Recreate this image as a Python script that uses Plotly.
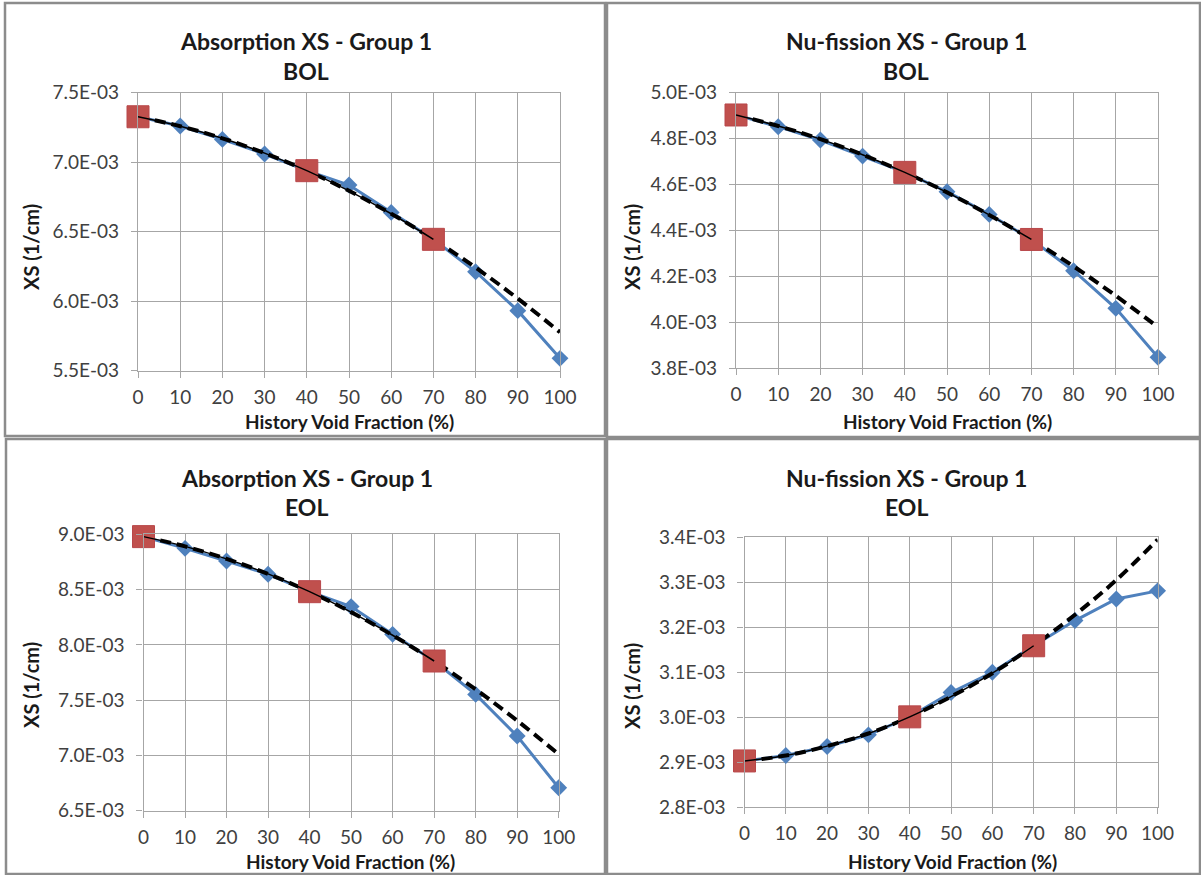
import plotly.graph_objects as go

# ---------------- data (values in 1/cm, read as x 1E-03) ----------------
void = [0, 10, 20, 30, 40, 50, 60, 70, 80, 90, 100]
fit_void = [0, 40, 70]
x_ticks = [0, 10, 20, 30, 40, 50, 60, 70, 80, 90, 100]

abs_bol_xs = [7.327, 7.260, 7.164, 7.059, 6.939, 6.836, 6.639, 6.445, 6.212, 5.932, 5.589]
abs_bol_fit = [7.327, 6.939, 6.445]
abs_bol_trend = [7.327, 7.259, 7.172, 7.065, 6.939, 6.794, 6.629, 6.445, 6.242, 6.019, 5.777]
abs_bol_yticks = [5.5, 6.0, 6.5, 7.0, 7.5]

nuf_bol_xs = [4.903, 4.852, 4.794, 4.724, 4.653, 4.569, 4.470, 4.361, 4.225, 4.061, 3.848]
nuf_bol_fit = [4.903, 4.653, 4.361]
nuf_bol_trend = [4.903, 4.855, 4.798, 4.730, 4.653, 4.566, 4.468, 4.361, 4.244, 4.116, 3.979]
nuf_bol_yticks = [3.8, 4.0, 4.2, 4.4, 4.6, 4.8, 5.0]

abs_eol_xs = [8.979, 8.873, 8.759, 8.638, 8.481, 8.346, 8.095, 7.854, 7.552, 7.175, 6.708]
abs_eol_fit = [8.979, 8.481, 7.854]
abs_eol_trend = [8.979, 8.891, 8.778, 8.642, 8.481, 8.296, 8.087, 7.854, 7.597, 7.315, 7.010]
abs_eol_yticks = [6.5, 7.0, 7.5, 8.0, 8.5, 9.0]

nuf_eol_xs = [2.903, 2.915, 2.935, 2.961, 3.001, 3.055, 3.100, 3.159, 3.215, 3.263, 3.281]
nuf_eol_fit = [2.903, 3.001, 3.159]
nuf_eol_trend = [2.903, 2.915, 2.936, 2.964, 3.001, 3.046, 3.098, 3.159, 3.228, 3.305, 3.395]
nuf_eol_yticks = [2.8, 2.9, 3.0, 3.1, 3.2, 3.3, 3.4]

titles = ["Absorption XS - Group 1", "Nu-fission XS - Group 1",
          "Absorption XS - Group 1", "Nu-fission XS - Group 1"]
subtitles = ["BOL", "BOL", "EOL", "EOL"]
x_title = "History Void Fraction (%)"
y_title = "XS (1/cm)"

SCALE = 1e-3
W, H = 1201, 875

BLUE = "#4F81BD"
RED = "#C0504D"
GRID = "#A6A6A6"
BORDER = "#8C8C8C"
FONT = "Lato, Carlito, Calibri, sans-serif"
TICKCOL = "#404040"
TITLECOL = "#1A1A1A"

# panel layout in pixels
panels = [
    dict(xs=abs_bol_xs, fit=abs_bol_fit, trend=abs_bol_trend, yt=abs_bol_yticks,
         px=(138, 560), py=(92.7, 370.7), box=(5, 3, 605, 436),
         tx=306, ty=(41, 71), xtx=350, xty=422, ytx=31, yty=247),
    dict(xs=nuf_bol_xs, fit=nuf_bol_fit, trend=nuf_bol_trend, yt=nuf_bol_yticks,
         px=(736, 1158), py=(92.7, 368.3), box=(607, 3, 1203, 437),
         tx=906, ty=(41, 71), xtx=947, xty=422, ytx=632, yty=247),
    dict(xs=abs_eol_xs, fit=abs_eol_fit, trend=abs_eol_trend, yt=abs_eol_yticks,
         px=(143.5, 558.7), py=(534.3, 810.7), box=(6, 439, 605, 874),
         tx=306.5, ty=(478, 507.5), xtx=350.5, xty=861, ytx=31, yty=685),
    dict(xs=nuf_eol_xs, fit=nuf_eol_fit, trend=nuf_eol_trend, yt=nuf_eol_yticks,
         px=(744.5, 1157.6), py=(537.3, 807.3), box=(607, 439, 1203, 874),
         tx=906, ty=(478, 507.5), xtx=952, xty=861, ytx=632, yty=686),
]

fig = go.Figure()
annotations = []
shapes = []

for i, p in enumerate(panels):
    n = "" if i == 0 else str(i + 1)
    xa, ya = "x" + n, "y" + n
    ys = [v * SCALE for v in p["xs"]]
    yf = [v * SCALE for v in p["fit"]]
    yt = [v * SCALE for v in p["trend"]]

    fig.add_trace(go.Scatter(
        x=void, y=ys, mode="lines+markers", xaxis=xa, yaxis=ya,
        line=dict(color=BLUE, width=3),
        marker=dict(symbol="diamond", size=13, color=BLUE),
        cliponaxis=False, showlegend=False))
    fig.add_trace(go.Scatter(
        x=void, y=yt, mode="lines", xaxis=xa, yaxis=ya,
        line=dict(color="black", width=4, dash="11px,6px", shape="spline", smoothing=1.0),
        cliponaxis=False, showlegend=False))
    fig.add_trace(go.Scatter(
        x=fit_void, y=yf, mode="markers", xaxis=xa, yaxis=ya,
        marker=dict(symbol="square", size=22, color=RED,
                    line=dict(color="#B8474A", width=1)),
        cliponaxis=False, showlegend=False))
    fig.add_trace(go.Scatter(
        x=void[:8], y=yt[:8], mode="lines", xaxis=xa, yaxis=ya,
        line=dict(color="black", width=1.5, shape="spline", smoothing=1.0),
        cliponaxis=False, showlegend=False))

    x0, x1 = p["px"]
    y0, y1 = p["py"]
    ytv = [v * SCALE for v in p["yt"]]
    axis_common = dict(
        showgrid=True, gridcolor=GRID, gridwidth=1.3, automargin=False,
        showline=True, linecolor=GRID, linewidth=1.3, mirror=True,
        zeroline=False, ticks="outside", ticklen=6, tickcolor=GRID, tickwidth=1.3,
        tickfont=dict(family=FONT, size=19, color=TICKCOL),
    )
    fig.update_layout(**{
        "xaxis" + n: dict(domain=[x0 / W, x1 / W], range=[0, 100], anchor=ya,
                          tickvals=x_ticks, ticktext=[str(t) for t in x_ticks],
                          ticklabelstandoff=3, fixedrange=True, **axis_common),
        "yaxis" + n: dict(domain=[1 - y1 / H, 1 - y0 / H], range=[ytv[0], ytv[-1]],
                          anchor=xa, tickvals=ytv,
                          ticktext=[f"{v:.1f}E-03" for v in p["yt"]],
                          ticklabelstandoff=8, fixedrange=True, **axis_common),
    })

    annotations += [
        dict(text="<b>%s</b>" % titles[i], x=p["tx"] / W, y=1 - p["ty"][0] / H,
             font=dict(family=FONT, size=23, color=TITLECOL)),
        dict(text="<b>%s</b>" % subtitles[i], x=p["tx"] / W, y=1 - p["ty"][1] / H,
             font=dict(family=FONT, size=23, color=TITLECOL)),
        dict(text="<b>%s</b>" % x_title, x=p["xtx"] / W, y=1 - p["xty"] / H,
             font=dict(family=FONT, size=19, color=TITLECOL)),
        dict(text="<b>%s</b>" % y_title, x=p["ytx"] / W, y=1 - p["yty"] / H,
             textangle=-90, font=dict(family=FONT, size=20, color=TITLECOL)),
    ]
    bx0, by0, bx1, by1 = p["box"]
    shapes.append(dict(type="rect", xref="paper", yref="paper",
                       x0=bx0 / W, x1=min(bx1, W - 1) / W, y0=1 - by1 / H, y1=1 - by0 / H,
                       line=dict(color=BORDER, width=2.5), layer="below"))

for a in annotations:
    a.update(xref="paper", yref="paper", showarrow=False,
             xanchor="center", yanchor="middle")

fig.update_layout(
    width=W, height=H, margin=dict(l=0, r=0, t=0, b=0, pad=0, autoexpand=False),
    paper_bgcolor="white", plot_bgcolor="white",
    annotations=annotations, shapes=shapes, showlegend=False,
)

fig.write_html("out.html", config={"displayModeBar": False},
               post_script="document.body.style.margin='0';"
                           "document.body.style.overflow='hidden';")
